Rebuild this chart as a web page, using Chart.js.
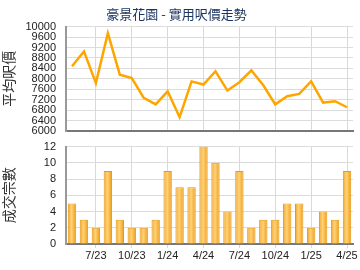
<!DOCTYPE html>
<html>
<head>
<meta charset="utf-8">
<script src="https://cdn.jsdelivr.net/npm/chart.js@4/dist/chart.umd.min.js"></script>
<style>
html,body{margin:0;padding:0;background:#fff;width:360px;height:270px;overflow:hidden;}
#c1{position:absolute;left:0;top:0;}
#c2{position:absolute;left:0;top:140px;}
</style>
</head>
<body>
<canvas id="c1" width="360" height="140"></canvas>
<canvas id="c2" width="360" height="130"></canvas>
<script>
const months = ['5/23','6/23','7/23','8/23','9/23','10/23','11/23','12/23','1/24','2/24','3/24','4/24','5/24','6/24','7/24','8/24','9/24','10/24','11/24','12/24','1/25','2/25','3/25','4/25'];
const avgPrice = [8480, 9050, 7840, 9750, 8160, 8030, 7270, 7020, 7520, 6530, 7900, 7780, 8290, 7550, 7870, 8320, 7750, 7020, 7330, 7420, 7900, 7090, 7140, 6910];
const deals = [5, 3, 2, 9, 3, 2, 2, 3, 9, 7, 7, 12, 10, 4, 9, 2, 3, 3, 5, 5, 2, 4, 3, 9];
const quarterMonths = ['1', '4', '7', '10'];
const chartTitle = '豪景花園 - 實用呎價走勢';
const priceAxisTitle = '平均呎價';
const dealsAxisTitle = '成交宗數';

Chart.defaults.font.family = '"Liberation Sans", Arial, sans-serif';
Chart.defaults.color = '#222';
Chart.defaults.animation = false;

const isQuarter = (i) => quarterMonths.includes(months[i].split('/')[0]);
const vGrid = (c) => (c.index !== undefined && isQuarter(c.index)) ? '#d9d9d9' : 'rgba(0,0,0,0)';

new Chart(document.getElementById('c1'), {
  type: 'line',
  data: {
    labels: months,
    datasets: [{
      data: avgPrice,
      borderColor: '#FFA500',
      borderWidth: 2.5,
      pointRadius: 0,
      tension: 0,
      fill: false
    }]
  },
  options: {
    responsive: false,
    layout: { padding: { top: 0, right: 7, left: 0, bottom: 0 } },
    plugins: {
      legend: { display: false },
      tooltip: { enabled: false },
      title: {
        display: true,
        text: chartTitle,
        color: '#1c3661',
        font: { family: '"Noto Sans CJK TC", sans-serif', size: 13, weight: 'normal' },
        padding: { top: 6, bottom: 5 }
      }
    },
    scales: {
      x: {
        offset: true,
        grid: { offset: false, color: vGrid, drawTicks: false },
        border: { color: '#777', width: 2 },
        ticks: { display: false, autoSkip: false },
        afterFit: (s) => { s.height = 9; }
      },
      y: {
        min: 6000, max: 10000,
        ticks: { stepSize: 400, autoSkip: false, padding: 0, font: { size: 11 }, color: '#222',
          callback: (v) => String(v) },
        grid: { color: '#dcdcdc', drawTicks: true, tickLength: 10, tickColor: 'rgba(0,0,0,0)' },
        border: { color: '#999', width: 2 },
        title: {
          display: true, text: priceAxisTitle, color: '#333',
          font: { family: '"Noto Sans CJK TC", sans-serif', size: 14 },
          padding: { top: 0, bottom: 0 }
        },
        afterFit: (s) => { s.width = 66; }
      }
    }
  }
});

const barGradientPlugin = {
  id: 'barGradient',
  beforeDatasetsDraw(chart) {
    const ctx = chart.ctx;
    chart.getDatasetMeta(0).data.forEach((el) => {
      const w = el.width;
      const g = ctx.createLinearGradient(el.x - w / 2, 0, el.x + w / 2, 0);
      g.addColorStop(0, '#F2A62A');
      g.addColorStop(0.45, '#FFD278');
      g.addColorStop(0.7, '#F9B845');
      g.addColorStop(1, '#EE9C1A');
      el.options = Object.assign({}, el.options, { backgroundColor: g });
    });
  }
};

new Chart(document.getElementById('c2'), {
  type: 'bar',
  data: {
    labels: months,
    datasets: [{
      data: deals,
      backgroundColor: '#F7B53E',
      borderColor: '#E89A12',
      borderWidth: 1,
      barPercentage: 0.7,
      categoryPercentage: 1
    }]
  },
  plugins: [barGradientPlugin],
  options: {
    responsive: false,
    layout: { padding: { top: 0, right: 7, left: 0, bottom: 0 } },
    plugins: { legend: { display: false }, tooltip: { enabled: false } },
    scales: {
      x: {
        offset: true,
        grid: { offset: false, color: vGrid, tickLength: 4 },
        border: { color: '#777', width: 2 },
        ticks: {
          autoSkip: false, maxRotation: 0, minRotation: 0, padding: 1,
          font: { size: 11 }, color: '#222',
          callback: function (v, i) { return isQuarter(i) ? months[i] : ''; }
        },
        afterFit: (s) => { s.height = 26; }
      },
      y: {
        min: 0, max: 12,
        ticks: { stepSize: 2, autoSkip: false, padding: 0, font: { size: 11 }, color: '#222' },
        grid: { color: '#dcdcdc', drawTicks: true, tickLength: 10, tickColor: 'rgba(0,0,0,0)' },
        border: { color: '#999', width: 2 },
        title: {
          display: true, text: dealsAxisTitle, color: '#333',
          font: { family: '"Noto Sans CJK TC", sans-serif', size: 14 },
          padding: { top: 0, bottom: 0 }
        },
        afterFit: (s) => { s.width = 66; }
      }
    }
  }
});
</script>
</body>
</html>
